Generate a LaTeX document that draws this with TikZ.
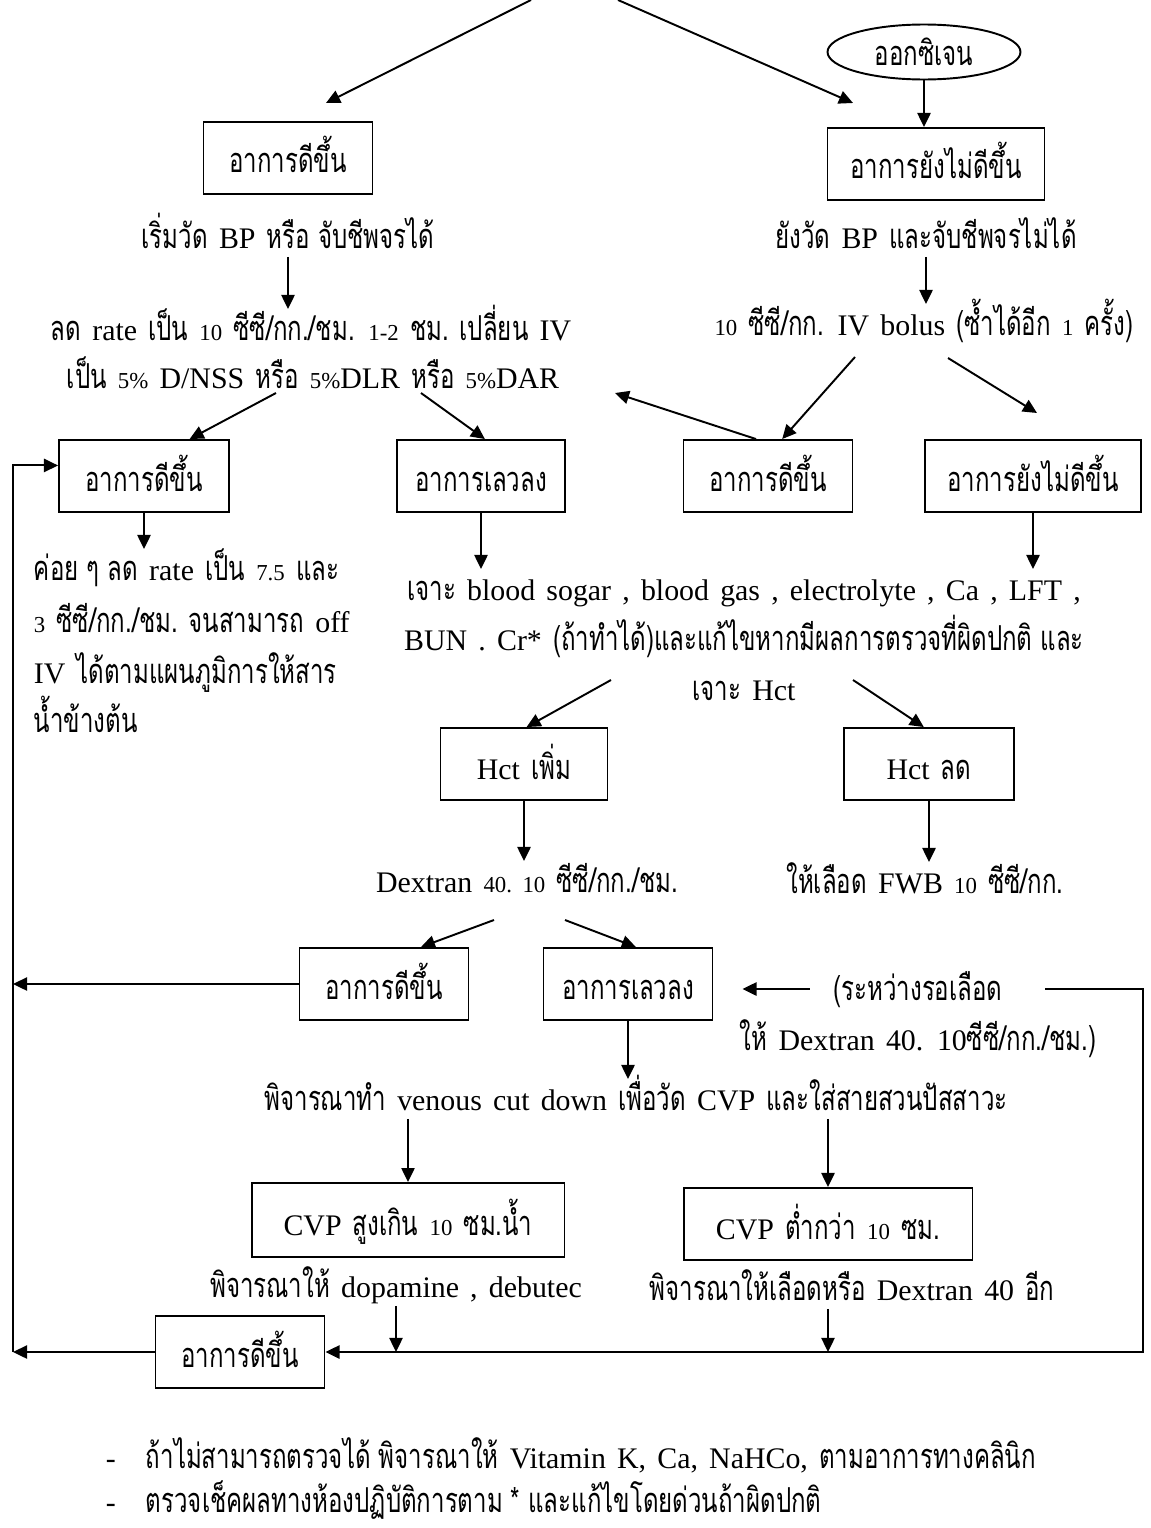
\documentclass[tikz,border=0pt]{standalone}
\usepackage{fontspec}
\setmainfont{Liberation Serif}[WordSpace=1.5]
\newfontfamily\thaifont[Script=Thai,Scale=1.15,FakeStretch=0.7]{Loma}
\usepackage{tikz}
\usetikzlibrary{shapes.geometric}
\usetikzlibrary{arrows.meta}
\newcommand{\tx}[1]{{\thaifont #1}}
\newcommand{\nm}[1]{{\fontsize{13}{15}\selectfont #1}}

\begin{document}
\begin{tikzpicture}[x=0.02cm,y=-0.02cm,line width=1.1pt,font=\fontsize{17}{20}\selectfont,
	arr/.style={-{Triangle[length=8pt,width=7.5pt]}},
	box/.style={draw, rectangle, inner sep=0pt, minimum height=1.44cm, text height=0.7cm, text depth=0.1cm},
	txt/.style={anchor=base, inner sep=0pt, text height=0.6cm, text depth=0.16cm}]
	\useasboundingbox (0,0) rectangle (1150,1528);
	% Nodes
	\node [ellipse, draw, inner sep=0pt, minimum width=3.86cm, minimum height=1.1cm, text height=0.6cm, text depth=0.05cm] (1) at (924,52) {\tx{ออกซิเจน}};
	\node [box, minimum width=3.38cm] (2) at (288,158) {\tx{อาการดีขึ้น}};
	\node [box, minimum width=4.34cm] (3) at (936,164) {\tx{อาการยังไม่ดีขึ้น}};
	\node [box, minimum width=3.4cm] (4) at (144,476) {\tx{อาการดีขึ้น}};
	\node [box, minimum width=3.36cm] (5) at (481,476) {\tx{อาการเลวลง}};
	\node [box, minimum width=3.38cm] (6) at (768,476) {\tx{อาการดีขึ้น}};
	\node [box, minimum width=4.32cm] (7) at (1033,476) {\tx{อาการยังไม่ดีขึ้น}};
	\node [box, minimum width=3.34cm] (8) at (524,764) {Hct \tx{เพิ่ม}};
	\node [box, minimum width=3.4cm] (9) at (929,764) {Hct \tx{ลด}};
	\node [box, minimum width=3.38cm] (10) at (384,984) {\tx{อาการดีขึ้น}};
	\node [box, minimum width=3.38cm] (11) at (628,984) {\tx{อาการเลวลง}};
	\node [box, minimum width=6.26cm, minimum height=1.48cm] (12) at (408,1220) {CVP \tx{สูงเกิน} \nm{10} \tx{ซม.น้ำ}};
	\node [box, minimum width=5.78cm] (13) at (828,1224) {CVP \tx{ต่ำกว่า} \nm{10} \tx{ซม.}};
	\node [box, minimum width=3.38cm] (14) at (240,1352) {\tx{อาการดีขึ้น}};

	% Texts
	\node [txt] (t1) at (288,248) {\tx{เริ่มวัด} BP \tx{หรือ จับชีพจรได้}};
	\node [txt] (t2) at (311,340) {\tx{ลด} rate \tx{เป็น} \nm{10} \tx{ซีซี/กก./ชม.} \nm{1-2} \tx{ชม. เปลี่ยน} IV};
	\node [txt] (t3) at (313,388) {\tx{เป็น} \nm{5\%} D/NSS \tx{หรือ} \nm{5\%}DLR \tx{หรือ} \nm{5\%}DAR};
	\node [txt] (t4) at (926,248) {\tx{ยังวัด} BP \tx{และจับชีพจรไม่ได้}};
	\node [txt] (t5) at (924,335) {\nm{10} \tx{ซีซี/กก.} IV bolus \tx{(ซ้ำได้อีก} \nm{1} \tx{ครั้ง)}};
	\node [txt, anchor=base west] (t6) at (33,580) {\tx{ค่อย ๆ ลด} rate \tx{เป็น} \nm{7.5} \tx{และ}};
	\node [txt, anchor=base west] (t7) at (33,632) {\nm{3} \tx{ซีซี/กก./ชม. จนสามารถ} off};
	\node [txt, anchor=base west] (t8) at (33,683) {IV \tx{ได้ตามแผนภูมิการให้สาร}};
	\node [txt, anchor=base west] (t9) at (33,732) {\tx{น้ำข้างต้น}};
	\node [txt] (t10) at (744,600) {\tx{เจาะ} blood sogar , blood gas , electrolyte , Ca , LFT ,};
	\node [txt] (t11) at (744,650) {BUN . Cr* \tx{(ถ้าทำได้)และแก้ไขหากมีผลการตรวจที่ผิดปกติ และ}};
	\node [txt] (t12) at (744,700) {\tx{เจาะ} Hct};
	\node [txt] (t13) at (527,892) {Dextran \nm{40. 10} \tx{ซีซี/กก./ชม.}};
	\node [txt] (t14) at (925,893) {\tx{ให้เลือด} FWB \nm{10} \tx{ซีซี/กก.}};
	\node [txt] (t15) at (918,1000) {\tx{(ระหว่างรอเลือด}};
	\node [txt] (t16) at (918,1050) {\tx{ให้} Dextran 40. 10\tx{ซีซี/กก./ชม.)}};
	\node [txt] (t17) at (636,1110) {\tx{พิจารณาทำ} venous cut down \tx{เพื่อวัด} CVP \tx{และใส่สายสวนปัสสาวะ}};
	\node [txt] (t18) at (396,1297) {\tx{พิจารณาให้} dopamine , debutec};
	\node [txt] (t19) at (852,1300) {\tx{พิจารณาให้เลือดหรือ} Dextran 40 \tx{อีก}};
	\node [txt, anchor=base west] (d1) at (105,1468) {-};
	\node [txt, anchor=base west] (n1) at (145,1468) {\tx{ถ้าไม่สามารถตรวจได้ พิจารณาให้} Vitamin K, Ca, NaHCo, \tx{ตามอาการทางคลินิก}};
	\node [txt, anchor=base west] (d2) at (105,1512) {-};
	\node [txt, anchor=base west] (n2) at (145,1512) {\tx{ตรวจเช็คผลทางห้องปฏิบัติการตาม * และแก้ไขโดยด่วนถ้าผิดปกติ}};

	% free ends
	\coordinate (c1) at (531,0);
	\coordinate (c2) at (326,103);
	\coordinate (c3) at (618,0);
	\coordinate (c4) at (853,103);
	\coordinate (c5) at (276,393);
	\coordinate (c6) at (421,393);
	\coordinate (c7) at (855,357);
	\coordinate (c8) at (948,358);
	\coordinate (c9) at (1037,413);
	\coordinate (c10) at (615,393);
	\coordinate (c11) at (611,680);
	\coordinate (c12) at (853,680);
	\coordinate (c13) at (494,920);
	\coordinate (c14) at (565,920);
	\coordinate (l1) at (13,1352);
	\coordinate (l2) at (13,984);
	\coordinate (r1) at (1143,1352);

	% Arrows
	\draw[arr] (c1) -- (c2);
	\draw[arr] (c3) -- (c4);
	\draw[arr] (1.south) -- (1.south |- 3.north);
	\draw[arr] (t1.south) -- (t1.south |- t2.north);
	\draw[arr] (t4.south) -- (t4.south |- t5.north);
	\draw[arr] (c5) -- (4.39);
	\draw[arr] (c6) -- (5.84);
	\draw[arr] (c7) -- (6.69);
	\draw[arr] (c8) -- (c9);
	\draw[arr] (6.108) -- (c10);
	\draw[arr] (4.south) -- (4.south |- t6.north);
	\draw[arr] (5.south) -- (5.south |- t10.north);
	\draw[arr] (7.south) -- (7.south |- t10.north);
	\draw[arr] (c11) -- (8.86);
	\draw[arr] (c12) -- (9.98);
	\draw[arr] (8.south) -- (8.south |- t13.north);
	\draw[arr] (9.south) -- (9.south |- t14.north);
	\draw[arr] (c13) -- (10.45);
	\draw[arr] (c14) -- (11.78);
	\draw[arr] (11.south) -- (11.south |- t17.north);
	\draw[arr] (12.north |- t17.south) -- (12.north);
	\draw[arr] (13.north |- t17.south) -- (13.north);
	\draw[arr] (t18.south) -- (t18.south |- r1);
	\draw[arr] (13.south |- t19.south) -- (13.south |- r1);
	\draw[arr, shorten <=0.46cm, shorten >=0.58cm] (t15.west) -- (t15.west -| 11.east);
	\draw[arr, shorten <=0.84cm] (t15.east) -- (t15.east -| r1) -- (r1) -- (14.east);
	\draw[arr] (10.west) -- (l2);
	\draw[arr] (14.west) -- (l1);
	\draw[arr] (l1) -- (l1 |- 4.173) -- (4.173);
\end{tikzpicture}
\end{document}
